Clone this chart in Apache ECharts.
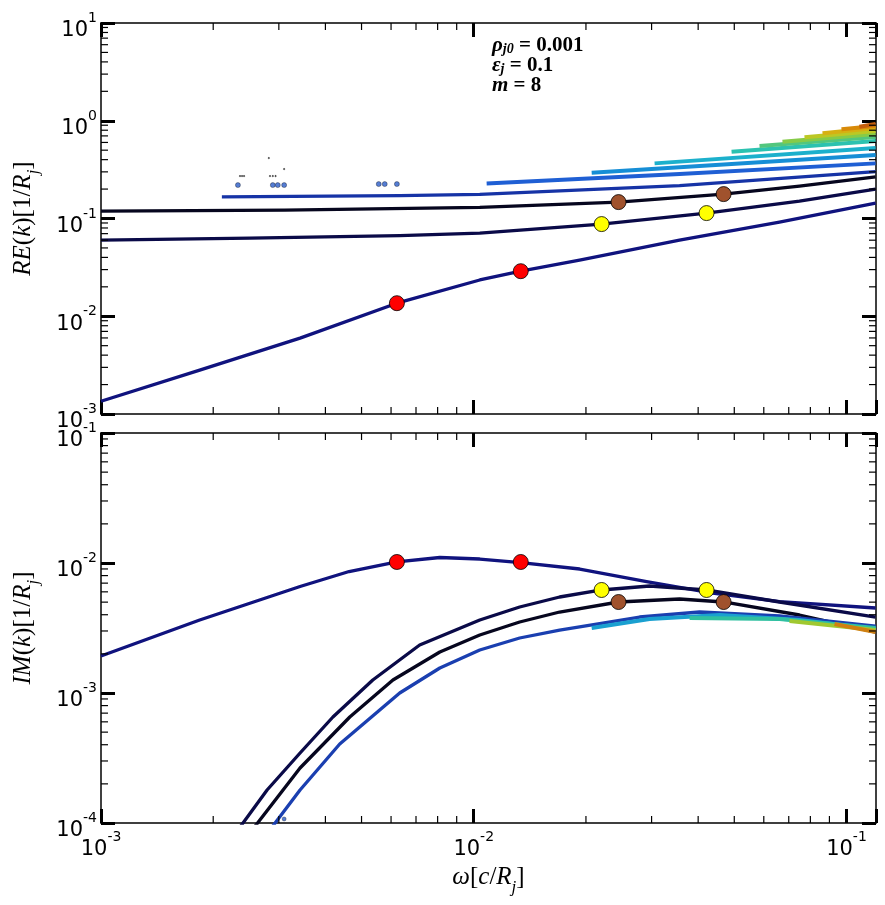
<!DOCTYPE html>
<html>
<head>
<meta charset="utf-8">
<script src="https://cdn.jsdelivr.net/npm/echarts@6/dist/echarts.min.js"></script>
<style>
html,body{margin:0;padding:0;background:#fff}
#main{width:885px;height:905px}
</style>
</head>
<body>
<div id="main"></div>
<script>
// axis ranges
var xRange = [0.001, 0.12];
var reRange = [0.001, 10];
var imRange = [0.0001, 0.1];
var minorSteps = [2, 3, 4, 5, 6, 7, 8, 9];
var xDecades = [0.001, 0.01, 0.1];
var reDecades = [0.001, 0.01, 0.1, 1];
var imDecades = [0.0001, 0.001, 0.01];

// RE(k) branches [omega, value]
var reA = [[0.001,0.00135],[0.00184,0.00281],[0.00342,0.00597],[0.00622,0.0136],[0.01038,0.0235],[0.01337,0.0290],[0.01923,0.0376],[0.03565,0.0601],[0.0661,0.0918],[0.1197,0.1439]];
var reB = [[0.001,0.0601],[0.00251,0.0630],[0.00633,0.0668],[0.01038,0.0709],[0.02203,0.0877],[0.04213,0.1136],[0.0748,0.1507],[0.1197,0.2000]];
var reC = [[0.001,0.1190],[0.00311,0.1219],[0.01038,0.1299],[0.02446,0.1472],[0.04681,0.1777],[0.0748,0.2146],[0.1197,0.2672]];
var reD = [[0.00211,0.1668],[0.00633,0.1715],[0.01038,0.1764],[0.03566,0.2171],[0.1197,0.3020]];
var reCloud = [
  [[0.01083,0.2287],[0.03566,0.2848],[0.1197,0.3664]],
  [[0.02072,0.2936],[0.1197,0.4456]],
  [[0.03056,0.3664],[0.1197,0.5255]],
  [[0.04917,0.4817],[0.1197,0.6197]],
  [[0.05844,0.5510],[0.1197,0.6811]],
  [[0.06734,0.6096],[0.1197,0.7309]],
  [[0.07716,0.6762],[0.1197,0.7844]],
  [[0.08623,0.7430],[0.1197,0.8419]],
  [[0.09696,0.8166],[0.1197,0.8827]],
  [[0.1083,0.8681],[0.1197,0.9251]]
];
var cloudColors = ['#1f5fd4','#168ed6','#1cb0cc','#2cc2b0','#52c67e','#86cb48','#bcc824','#d6b012','#d88a08','#c45e0c'];
var reDotsBlue = [[0.00233,0.2197],[0.00289,0.2197],[0.00298,0.2197],[0.0031,0.2197],[0.00556,0.225],[0.00577,0.225],[0.00622,0.225]];
var reDotsBlack = [[0.00282,0.415],[0.0031,0.3204],[0.00236,0.2716],[0.00239,0.2716],[0.00242,0.2716],[0.00284,0.2716],[0.00289,0.2716],[0.00294,0.2716]];

// IM(k) branches
var imA = [[0.001,0.001926],[0.00184,0.003642],[0.00342,0.0066],[0.00463,0.0086],[0.00622,0.0102],[0.00811,0.01102],[0.01038,0.01073],[0.01337,0.01005],[0.01924,0.008991],[0.02909,0.007182],[0.04374,0.005877],[0.06613,0.005039],[0.1197,0.004507]];
var imB = [[0.0023,0.000084],[0.00279,0.0001794],[0.00342,0.0003455],[0.00419,0.0006537],[0.00536,0.001259],[0.00716,0.002339],[0.01038,0.003642],[0.01328,0.004586],[0.017,0.005476],[0.02203,0.0062],[0.02963,0.006655],[0.04213,0.0062],[0.06613,0.005012],[0.1197,0.003842]];
var imC = [[0.00251,0.000084],[0.00342,0.0002649],[0.00465,0.0006537],[0.00607,0.001259],[0.00811,0.002067],[0.01038,0.002794],[0.01328,0.003517],[0.017,0.004198],[0.02446,0.005012],[0.03566,0.005286],[0.04681,0.005012],[0.0748,0.003981],[0.1197,0.002944]];
var imD = [[0.0028,0.000084],[0.00342,0.0001794],[0.00437,0.000405],[0.00633,0.001],[0.00811,0.001557],[0.01038,0.002142],[0.01328,0.002649],[0.017,0.003051],[0.02786,0.003842],[0.04035,0.004198],[0.06613,0.003912],[0.1197,0.003275]];
var imCloud = [
  [[0.02072,0.003162],[0.02963,0.003709],[0.04566,0.003981],[0.0748,0.003642],[0.1197,0.003107]],
  [[0.03794,0.003775],[0.06613,0.003709],[0.1197,0.003162]],
  [[0.07034,0.00358],[0.1197,0.003051]],
  [[0.09286,0.003396],[0.1197,0.002944]]
];
var imCloudColors = ['#1aa0d0','#30c0a0','#a0c830','#d08010'];
var imDots = [[0.0031,0.0001074]];

// marked points
var reRed = [[0.00622,0.0136],[0.01337,0.0289]];
var reYellow = [[0.02203,0.0877],[0.04213,0.1136]];
var reBrown = [[0.02446,0.1472],[0.04681,0.1777]];
var imRed = [[0.00622,0.01018],[0.01337,0.01018]];
var imYellow = [[0.02203,0.0062],[0.04213,0.0062]];
var imBrown = [[0.02446,0.00501],[0.04681,0.00501]];

function powLabel(v) {
    var l = Math.log10(v);
    var e = Math.round(l);
    if (Math.abs(l - e) > 1e-6) return '';
    return '{b|10}{s|' + e + '}';
}
var labelRich = {
    b: {fontFamily: 'DejaVu Sans', fontSize: 21, color: '#000', lineHeight: 30, verticalAlign: 'bottom'},
    s: {fontFamily: 'DejaVu Sans', fontSize: 14, color: '#000', lineHeight: 16, verticalAlign: 'top'}
};
var nameRich = {
    i: {fontFamily: 'Liberation Serif', fontStyle: 'italic', fontSize: 25, color: '#000', lineHeight: 28, verticalAlign: 'top'},
    u: {fontFamily: 'Liberation Serif', fontSize: 25, color: '#000', lineHeight: 28, verticalAlign: 'top'},
    sub: {fontFamily: 'Liberation Serif', fontStyle: 'italic', fontSize: 17, color: '#000', lineHeight: 18, padding: [14, 0, 0, 0], verticalAlign: 'top'}
};

function axis(type, range, pos, gi, labels, extra) {
    var a = {
        type: 'log', gridIndex: gi, position: pos, min: range[0], max: range[1],
        axisLine: {onZero: false, lineStyle: {color: '#000', width: 1.5}},
        axisTick: {inside: true, length: 14, lineStyle: {color: '#000', width: 3}},
        splitLine: {show: false},
        axisLabel: {show: labels, formatter: powLabel, rich: labelRich, color: '#000'}
    };
    return Object.assign(a, extra || {});
}

function minorTicks(vals, isX, xr, yr, xi, yi) {
    return {
        type: 'custom', xAxisIndex: xi, yAxisIndex: yi, silent: true, z: 6,
        data: vals.map(function (v) { return isX ? [v, yr[0]] : [xr[0], v]; }),
        renderItem: function (params, api) {
            var v = api.value(isX ? 0 : 1);
            var a, b, c, d;
            if (isX) {
                a = api.coord([v, yr[0]]); b = api.coord([v, yr[1]]);
                c = [a[0], a[1] - 7]; d = [b[0], b[1] + 7];
            } else {
                a = api.coord([xr[0], v]); b = api.coord([xr[1], v]);
                c = [a[0] + 7, a[1]]; d = [b[0] - 7, b[1]];
            }
            var st = {stroke: '#000', lineWidth: 1.2};
            return {type: 'group', children: [
                {type: 'line', shape: {x1: a[0], y1: a[1], x2: c[0], y2: c[1]}, style: st},
                {type: 'line', shape: {x1: b[0], y1: b[1], x2: d[0], y2: d[1]}, style: st}
            ]};
        }
    };
}

function minorVals(decades, range) {
    var out = [];
    decades.forEach(function (d) {
        minorSteps.forEach(function (m) {
            var v = d * m;
            if (v > range[0] && v < range[1]) out.push(v);
        });
    });
    return out;
}

function curve(data, color, xi, yi, w) {
    return {type: 'line', data: data, xAxisIndex: xi, yAxisIndex: yi, showSymbol: false,
        smooth: false, silent: true, z: 2,
        lineStyle: {color: color, width: w || 3.3, join: 'round'}};
}
function marks(data, color, xi, yi) {
    return {type: 'scatter', data: data, xAxisIndex: xi, yAxisIndex: yi, symbolSize: 15, silent: true, z: 5,
        itemStyle: {color: color, borderColor: '#000', borderWidth: 0.8, opacity: 1}};
}
function dots(data, color, size, xi, yi) {
    return {type: 'scatter', data: data, xAxisIndex: xi, yAxisIndex: yi, symbolSize: size, silent: true, z: 3,
        itemStyle: {color: color, borderColor: '#000', borderWidth: 0.4}};
}

var series = [
    curve(reA, '#10137e', 0, 0),
    curve(reB, '#0a0a48', 0, 0),
    curve(reC, '#06061e', 0, 0),
    curve(reD, '#1633a6', 0, 0),
    dots(reDotsBlue, '#2a5cc8', 5, 0, 0),
    dots(reDotsBlack, '#000', 1.5, 0, 0),
    curve(imA, '#10137e', 2, 2),
    curve(imB, '#0a0a48', 2, 2),
    curve(imC, '#06061e', 2, 2),
    curve(imD, '#1a3fb0', 2, 2),
    dots(imDots, '#2a5cc8', 4, 2, 2)
];
reCloud.forEach(function (d, i) { series.push(curve(d, cloudColors[i], 0, 0, 4)); });
imCloud.forEach(function (d, i) { series.push(curve(d, imCloudColors[i], 2, 2, 4)); });
series.push(marks(reRed, '#ff0000', 0, 0), marks(reYellow, '#ffff00', 0, 0), marks(reBrown, '#a0522d', 0, 0));
series.push(marks(imRed, '#ff0000', 2, 2), marks(imYellow, '#ffff00', 2, 2), marks(imBrown, '#a0522d', 2, 2));
series.push(minorTicks(minorVals(xDecades, xRange), true, xRange, reRange, 0, 0));
series.push(minorTicks(minorVals(reDecades, reRange), false, xRange, reRange, 0, 0));
series.push(minorTicks(minorVals(xDecades, xRange), true, xRange, imRange, 2, 2));
series.push(minorTicks(minorVals(imDecades, imRange), false, xRange, imRange, 2, 2));

var yLabelExtra = {margin: 4, padding: [7, 0, 0, 0]};

var option = {
    backgroundColor: '#fff',
    animation: false,
    title: {
        left: 487, top: 30,
        text: '{v|ρ}{sb|j0}{t| = 0.001}\n{v|ε}{sb|j}{t| = 0.1}\n{v|m}{t| = 8}',
        textStyle: {rich: {
            v: {fontFamily: 'Liberation Serif', fontStyle: 'italic', fontWeight: 'bold', fontSize: 21, color: '#000', lineHeight: 20, verticalAlign: 'top'},
            t: {fontFamily: 'Liberation Serif', fontWeight: 'bold', fontSize: 21, color: '#000', lineHeight: 20, verticalAlign: 'top'},
            sb: {fontFamily: 'Liberation Serif', fontStyle: 'italic', fontWeight: 'bold', fontSize: 14, color: '#000', lineHeight: 14, padding: [7, 0, 0, 0], verticalAlign: 'top'}
        }}
    },
    grid: [
        {left: 101, top: 23, width: 775, height: 391},
        {left: 101, top: 433, width: 775, height: 390}
    ],
    xAxis: [
        axis('x', xRange, 'bottom', 0, false),
        axis('x', xRange, 'top', 0, false),
        axis('x', xRange, 'bottom', 1, true, {
            name: '{i|ω}{u|[}{i|c}{u|/}{i|R}{sub|j}{u|]}', nameLocation: 'middle', nameGap: 42,
            nameTextStyle: {rich: nameRich}
        }),
        axis('x', xRange, 'top', 1, false)
    ],
    yAxis: [
        axis('y', reRange, 'left', 0, true, {
            name: '{i|RE}{u|(}{i|k}{u|)[1/}{i|R}{sub|j}{u|]}', nameLocation: 'middle', nameGap: 62, nameRotate: 90,
            nameTextStyle: {rich: nameRich}
        }),
        axis('y', reRange, 'right', 0, false),
        axis('y', imRange, 'left', 1, true, {
            name: '{i|IM}{u|(}{i|k}{u|)[1/}{i|R}{sub|j}{u|]}', nameLocation: 'middle', nameGap: 62, nameRotate: 90,
            nameTextStyle: {rich: nameRich}
        }),
        axis('y', imRange, 'right', 1, false)
    ],
    series: series
};
option.xAxis[2].axisLabel.margin = 7;
Object.assign(option.yAxis[0].axisLabel, yLabelExtra);
Object.assign(option.yAxis[2].axisLabel, yLabelExtra);

var chart = echarts.init(document.getElementById('main'));
chart.setOption(option);
</script>
</body>
</html>
